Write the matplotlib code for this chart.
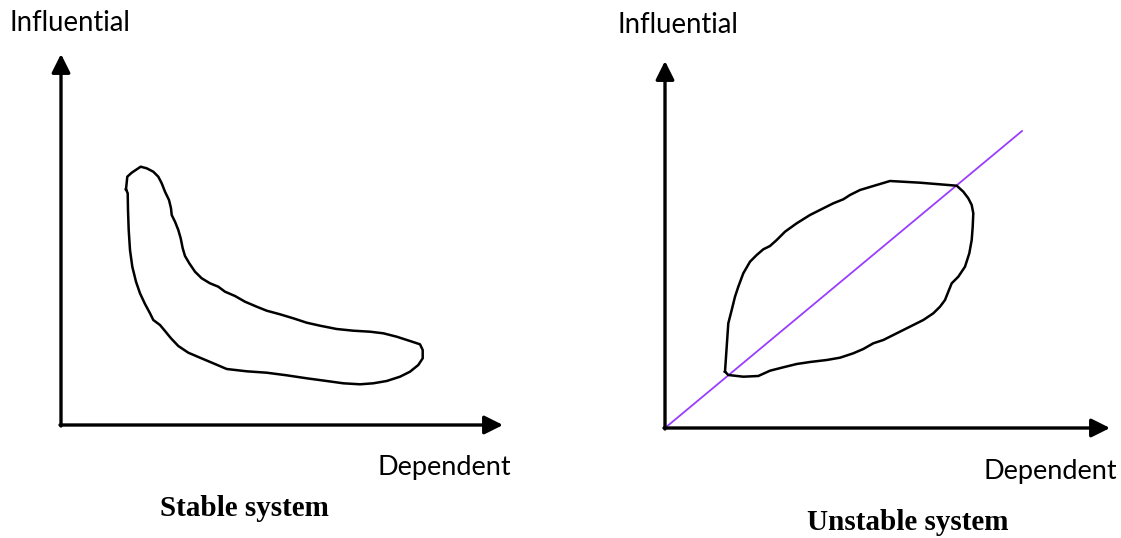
import matplotlib
matplotlib.use('Agg')
import matplotlib.pyplot as plt
import numpy as np

# canvas is laid out in image pixels (x right, y down)
W, H = 1121, 538

# left panel: stable system (traced outline of the hand-drawn blob)
stable_x = [126.0, 127.3, 131.7, 140.7, 146.7, 153.3, 158.3, 161.7, 165.0, 169.0, 171.0, 171.7,
            175.0, 178.3, 180.7, 182.7, 185.0, 189.3, 195.0, 201.7, 210.0, 218.3, 225.0, 235.0,
            245.0, 256.7, 266.7, 280.0, 293.3, 306.7, 320.0, 336.7, 353.3, 370.0, 383.3, 396.7,
            410.0, 420.0, 422.7, 422.7, 418.3, 410.0, 400.0, 386.7, 373.3, 360.0, 343.3, 326.7,
            306.7, 286.7, 266.7, 246.7, 226.7, 213.3, 200.0, 188.3, 178.3, 171.0, 165.0, 160.0,
            153.3, 150.0, 145.0, 140.0, 136.0, 132.3, 130.0, 128.7, 128.0, 127.7, 126.0]
stable_y = [189.3, 176.7, 172.7, 166.7, 168.3, 171.7, 176.7, 183.3, 191.7, 200.0, 208.3, 215.0,
            221.7, 230.0, 238.3, 248.3, 256.0, 263.3, 271.7, 278.3, 283.3, 286.7, 291.7, 296.0,
            301.7, 306.7, 310.7, 314.3, 318.3, 322.7, 325.7, 329.0, 330.7, 331.7, 333.3, 336.7,
            341.0, 344.3, 350.0, 358.3, 365.0, 371.7, 376.7, 381.0, 383.3, 384.3, 383.3, 381.0,
            378.3, 375.3, 372.7, 371.3, 369.0, 363.3, 357.7, 352.7, 346.0, 338.3, 331.0, 325.0,
            320.0, 313.3, 304.0, 293.3, 281.7, 266.7, 250.0, 230.0, 210.0, 193.3, 189.3]

# right panel: unstable system
unstable_x = [725.0, 726.7, 728.3, 731.7, 735.0, 738.3, 743.3, 750.0, 756.7, 763.3, 770.0, 776.7,
              785.0, 796.7, 810.0, 823.3, 833.3, 843.3, 850.0, 860.0, 873.3, 890.0, 920.0, 956.7,
              963.3, 968.3, 971.7, 973.3, 972.7, 971.7, 969.3, 965.0, 958.3, 951.7, 948.3, 945.0,
              940.0, 933.3, 923.3, 913.3, 903.3, 893.3, 883.3, 873.3, 863.3, 853.3, 840.0, 826.7,
              810.0, 796.7, 783.3, 770.0, 758.3, 743.3, 728.3, 725.0]
unstable_y = [371.7, 346.7, 323.3, 310.0, 296.7, 286.7, 273.3, 261.7, 255.0, 249.3, 246.0, 240.0,
              231.7, 223.3, 215.0, 208.3, 203.3, 199.3, 195.0, 190.0, 186.0, 181.0, 182.7, 185.7,
              191.7, 198.3, 205.0, 213.3, 226.7, 240.0, 253.3, 266.7, 276.7, 283.3, 291.7, 300.0,
              306.7, 313.3, 320.0, 325.0, 330.0, 335.0, 340.0, 343.3, 349.0, 353.3, 357.7, 360.0,
              362.0, 364.0, 367.3, 370.7, 376.0, 376.7, 375.0, 371.7]

# diagonal reference line (origin -> upper right)
diag_x = [665, 1022]
diag_y = [428, 131]

panels = [
    dict(origin=(61, 425), xtip=503, ytip=54, infl=(10, 23), dep=(378, 468),
         title=(244, 509), name='Stable system'),
    dict(origin=(665, 428), xtip=1110, ytip=61, infl=(617, 25), dep=(983, 471),
         title=(908, 523), name='Unstable system'),
]

fig = plt.figure(figsize=(W / 100, H / 100), dpi=100)
ax = fig.add_axes([0, 0, 1, 1])
ax.set_xlim(0, W)
ax.set_ylim(H, 0)
ax.axis('off')

label_font = ['Lato', 'DejaVu Sans']
for p in panels:
    ox, oy = p['origin']
    arrow = dict(arrowstyle='-|>', mutation_scale=28, lw=2.4, color='black',
                 shrinkA=0, shrinkB=0)
    ax.annotate('', xy=(p['xtip'], oy), xytext=(ox - 1, oy), arrowprops=arrow)
    ax.annotate('', xy=(ox, p['ytip']), xytext=(ox, oy + 1), arrowprops=arrow)
    ax.text(*p['infl'], 'Influential', family=label_font, fontsize=19.8,
            ha='left', va='center')
    ax.text(*p['dep'], 'Dependent', family=label_font, fontsize=19.5,
            ha='left', va='center')
    ax.text(*p['title'], p['name'], family='Liberation Serif', fontweight='bold',
            fontsize=21, ha='center', va='center')

ax.plot(diag_x, diag_y, color='#9b3dff', lw=1.3)
ax.plot(stable_x, stable_y, color='black', lw=1.8, solid_joinstyle='round')
ax.plot(unstable_x, unstable_y, color='black', lw=1.8, solid_joinstyle='round')

plt.savefig('out.png', dpi=100)
